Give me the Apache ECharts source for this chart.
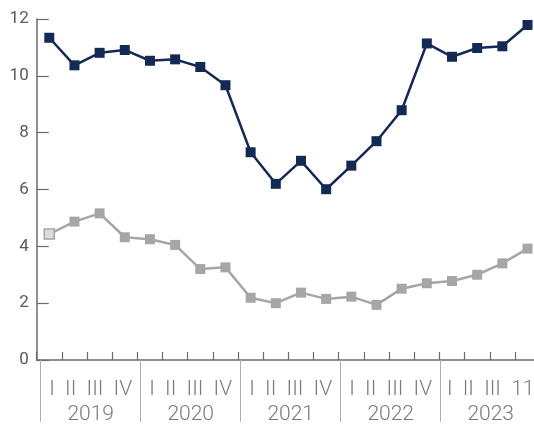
<!DOCTYPE html>
<html>
<head>
<meta charset="utf-8">
<script src="https://cdn.jsdelivr.net/npm/echarts@6/dist/echarts.min.js"></script>
<style>
html,body{margin:0;padding:0;background:#fff;}
#chart{width:534px;height:428px;}
</style>
</head>
<body>
<div id="chart"></div>
<script>
var quarters = ["I","II","III","IV","I","II","III","IV","I","II","III","IV","I","II","III","IV","I","II","III","11"];
var years = ["2019","2020","2021","2022","2023"];
var navySeries = [11.34,10.37,10.81,10.91,10.53,10.58,10.31,9.67,7.31,6.2,7.01,6.01,6.84,7.70,8.79,11.14,10.67,10.98,11.04,11.79];
var graySeries = [4.43,4.87,5.16,4.32,4.25,4.05,3.20,3.26,2.19,2.0,2.37,2.15,2.23,1.94,2.51,2.70,2.78,3.00,3.40,3.92];
var yTicks = {min:0, max:12, interval:2};

var grayData = graySeries.map(function(v,i){
  if(i===0){
    return {value:v, itemStyle:{color:'#dcdcdc', borderColor:'#a5a5a7', borderWidth:1.5}};
  }
  return v;
});

var labelFont = {fontFamily:'Roboto', fontWeight:300, fontSize:21, color:'#7a7a7a'};

var chart = echarts.init(document.getElementById('chart'), null, {renderer:'canvas'});
chart.setOption({
  animation:false,
  backgroundColor:'#fff',
  grid:[
    {left:36.7, width:503.4, top:19, bottom:68, containLabel:false, outerBoundsMode:'none'},
    {left:40.7, width:500, top:19, bottom:68, containLabel:false, outerBoundsMode:'none'}
  ],
  xAxis:[
    {
      type:'category', gridIndex:0, data:quarters, boundaryGap:true,
      axisLine:{show:true, lineStyle:{color:'#6b6b6b', width:1.5}},
      axisTick:{show:true, inside:true, length:8, interval:0, lineStyle:{color:'#6b6b6b', width:1.2}},
      axisLabel:{show:false}
    },
    {
      type:'category', gridIndex:1, data:years, boundaryGap:true, position:'bottom', offset:9,
      axisLine:{show:false},
      axisTick:{show:true, inside:false, length:62, interval:0, lineStyle:{color:'#b0b0b0', width:1}},
      axisLabel:Object.assign({
        interval:0, margin:8.75, lineHeight:24.5, align:'center',
        formatter:function(v, i){
          return quarters.slice(i*4, i*4+4).join('  ') + '\n' + v;
        }
      }, labelFont)
    }
  ],
  yAxis:[
    {
      type:'value', gridIndex:0, min:yTicks.min, max:yTicks.max, interval:yTicks.interval,
      axisLine:{show:true, lineStyle:{color:'#6b6b6b', width:1.5}},
      axisTick:{show:true, inside:true, length:12, lineStyle:{color:'#6b6b6b', width:1.2}},
      splitLine:{show:false},
      axisLabel:{margin:8, fontFamily:'Roboto', fontSize:17, color:'#5a5a5a'}
    },
    {
      type:'value', gridIndex:1, min:yTicks.min, max:yTicks.max, show:false
    }
  ],
  series:[
    {
      type:'line', xAxisIndex:0, yAxisIndex:0, data:grayData,
      symbol:'rect', symbolSize:10, showAllSymbol:true,
      lineStyle:{color:'#a6a6a8', width:2.5},
      itemStyle:{color:'#a6a6a8'}
    },
    {
      type:'line', xAxisIndex:0, yAxisIndex:0, data:navySeries,
      symbol:'rect', symbolSize:10, showAllSymbol:true,
      lineStyle:{color:'#142a55', width:2.5},
      itemStyle:{color:'#142a55'}
    }
  ]
});
</script>
</body>
</html>
